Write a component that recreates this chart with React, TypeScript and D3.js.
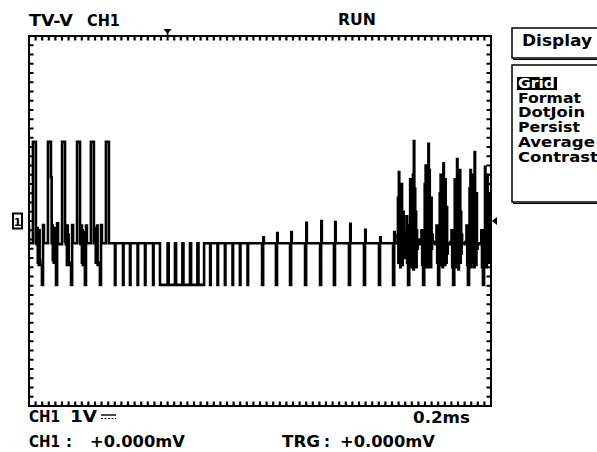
import React from "react";
import * as d3 from "d3";

// ---- scope settings ----
const TIME_DOMAIN: [number, number] = [0, 2000]; // µs, 0.2 ms/div × 10
const VOLT_DOMAIN: [number, number] = [-4, 4]; // V, 1 V/div × 8
const TRIGGER_T = 600; // µs (top marker)
const TRIGGER_V = 0; // V (right marker)
const GROUND_V = 0; // V (channel 1 marker)

const SYNC_TIP_V = -1.38;
const BLANK_V = -0.48;
const SYNC_W = 4.7; // µs
const EQ_W = 2.4; // µs

// ---- region A: last active video lines before vertical interval ----
const SYNC_A = [-9, 56, 117, 182, 242, 307];
const OFF_A = [4.7, 8.7, 26, 39, 42, 45, 47, 49, 51, 53, 55, 57];
const LEVELS_A = [
  [-0.09, -0.48, 1.71, -0.48, -0.5, -0.15, -0.9, -0.3, -0.95, -0.2, -0.85, -0.95],
  [-0.09, -0.48, 1.71, 0.95, -0.48, -0.1, -0.85, -0.25, -0.9, -0.15, -0.9, -0.85],
  [-0.05, -0.5, 1.71, -0.45, -0.5, -0.2, -0.95, -0.1, -0.85, -0.3, -0.95, -0.9],
  [-0.09, -0.48, 1.71, -0.48, -0.5, -0.1, -0.9, -0.2, -0.95, -0.25, -0.85, -0.95],
  [-0.1, -0.48, 1.71, -0.48, -0.45, -0.15, -0.9, -0.25, -0.9, -0.1, -0.95, -0.9],
  [-0.09, -0.48, 1.71, -0.48, -0.48, -0.48, -0.48, -0.48, -0.48, -0.48, -0.48, -0.48],
];

// ---- pre-equalizing pulses ----
const EQ_T1 = [372, 407, 437, 470, 502, 537];
// ---- broad (vertical sync) pulse with serrations ----
const BROAD = [567, 758];
const SERRATION_T = [600, 632, 664, 697, 729];
// ---- post-equalizing pulses ----
const EQ_T2 = [784, 816, 848, 881, 913, 946];

// ---- vertical blanking lines: sync + small upward spike ----
const SYNC_VBI = [1009, 1069, 1130, 1195, 1260, 1320, 1385, 1450, 1515];
const SPIKE_VBI = [-0.35, -0.26, -0.24, -0.04, 0.0, -0.02, -0.06, -0.19, -0.35];

// ---- region E: active video resumes ----
const SYNC_E = [1576, 1641, 1706, 1771, 1836, 1900, 1965];
const OFF_E = [5, 7, 9, 11, 13, 15, 17, 19, 21, 23, 25, 27, 29, 31, 33, 35, 37, 39, 42, 46, 50, 54, 58, 61];
const LEVELS_E = [
  [-0.24, -0.48, -0.48, -0.48, -0.48, -0.48, -0.48, -0.3, 0.5, -0.9, 1.06, -0.7, 0.6, -1.0, 0.3, -0.85, 0.8, -0.95, 0.2, -0.8, -0.2, -0.6, 0.1, -0.9],
  [-0.1, -0.9, 0.9, -1.0, 0.5, -0.7, 0.8, -0.6, 1.0, -1.05, 1.73, -0.9, 0.7, -0.8, 0.2, -1.0, -0.2, -0.6, -0.48, -0.4, -0.48, -0.5, -0.2, -0.95],
  [-0.3, 0.8, -1.0, 1.2, -0.8, 0.6, -0.5, 0.9, -1.0, 1.67, -0.9, 1.1, -0.7, 0.3, -1.0, 0.5, -0.6, -0.3, -0.48, -0.48, -0.45, -0.5, -0.1, -0.9],
  [-0.2, 0.6, -0.95, 1.0, -0.7, 0.4, 0.9, -1.0, 0.8, 1.25, -0.6, 0.2, -0.95, 0.9, -0.5, -0.9, 0.3, -0.7, -0.48, -0.48, -0.5, -0.45, -0.2, -1.0],
  [-0.3, 0.9, -1.0, 0.5, 0.8, -0.8, 1.34, -0.9, 0.4, -1.05, 0.7, -0.6, 1.1, -0.9, 0.2, -0.7, -0.3, -0.48, -0.48, -0.48, -0.5, -0.45, -0.1, -0.95],
  [-0.2, 0.7, -0.9, 1.1, -1.0, 0.4, 0.9, -0.7, 1.0, -0.9, 0.6, -1.0, 1.49, -0.5, 0.3, -0.95, 0.6, -0.6, -0.48, -0.48, -0.5, -0.48, -0.2, -1.0],
  [-0.2, -0.8, 1.17, -0.9, 0.9, -1.0, 0.5, 1.0, -0.9, 0.3, -0.8, 0.6, -0.7, 0.2, -0.9, -0.5, -0.48, -0.48, -0.48, -0.48, -0.48, -0.48, -0.48, -0.48],
];

// ---- screen texts ----
const HEADER_LEFT = ["TV-V", "CH1"];
const HEADER_STATE = "RUN";
const MENU_TITLE = "Display";
const MENU_ITEMS = ["Grid", "Format", "DotJoin", "Persist", "Average", "Contrast"];
const MENU_WIDTHS = [37, 63, 67, 62, 77, 80];
const SCALE_CH = ["CH1", "1V"];
const SCALE_TIME = "0.2ms";
const READOUT_CH = ["CH1", ":", "+0.000mV"];
const READOUT_TRG = ["TRG", ":", "+0.000mV"];

const H_TICKS = 70;
const V_TICKS = 40;

function buildTrace(): [number, number][] {
  const p: [number, number][] = [];
  SYNC_A.forEach((s, i) => {
    p.push([s, SYNC_TIP_V]);
    OFF_A.forEach((o, j) => p.push([s + o, LEVELS_A[i][j]]));
  });
  EQ_T1.forEach((t) => {
    p.push([t, SYNC_TIP_V]);
    p.push([t + EQ_W, BLANK_V]);
  });
  p.push([BROAD[0], SYNC_TIP_V]);
  SERRATION_T.forEach((t) => {
    p.push([t, BLANK_V]);
    p.push([t + SYNC_W, SYNC_TIP_V]);
  });
  p.push([BROAD[1], BLANK_V]);
  EQ_T2.forEach((t) => {
    p.push([t, SYNC_TIP_V]);
    p.push([t + EQ_W, BLANK_V]);
  });
  SYNC_VBI.forEach((s, i) => {
    p.push([s, SYNC_TIP_V]);
    p.push([s + SYNC_W, BLANK_V]);
    p.push([s + SYNC_W + 0.8, SPIKE_VBI[i]]);
    p.push([s + SYNC_W + 3, BLANK_V]);
  });
  SYNC_E.forEach((s, i) => {
    p.push([s, SYNC_TIP_V]);
    OFF_E.forEach((o, j) => p.push([s + o, LEVELS_E[i][j]]));
  });
  p.push([TIME_DOMAIN[1] + 20, BLANK_V]);
  return p;
}

const FONT = "'DejaVu Sans', Verdana, sans-serif";

export default function App() {
  const left = 29, right = 491, top = 36, bottom = 406;
  const x = d3.scaleLinear().domain(TIME_DOMAIN).range([left, right]);
  const y = d3.scaleLinear().domain(VOLT_DOMAIN).range([bottom, top]);
  const hTick = d3.scaleLinear().domain([0, H_TICKS]).range([left, right]);
  const vTick = d3.scaleLinear().domain([0, V_TICKS]).range([top, bottom]);

  const line = d3
    .line<[number, number]>()
    .x((d) => x(d[0]))
    .y((d) => y(d[1]))
    .curve(d3.curveStepAfter);
  const trace = buildTrace();

  const tx = x(TRIGGER_T);
  const ty = y(TRIGGER_V);
  const gy = y(GROUND_V);

  const txt = (s: string, px: number, py: number, w: number, size = 15, fill = "#000") => (
    <text
      key={s + px + py}
      x={px}
      y={py}
      fontFamily={FONT}
      fontWeight="bold"
      fontSize={size}
      fill={fill}
      textLength={w}
      lengthAdjust="spacingAndGlyphs"
    >
      {s}
    </text>
  );

  const tickPath =
    d3.range(1, H_TICKS).map((i) => `M${hTick(i)},${top}v4.5M${hTick(i)},${bottom}v-4.5`).join("") +
    d3.range(1, V_TICKS).map((i) => `M${left},${vTick(i)}h4.5M${right},${vTick(i)}h-4.5`).join("");

  return (
    <svg
      width={597}
      height={452}
      style={{ position: "absolute", left: 0, top: 0, background: "#fff" }}
    >
      <rect x={0} y={0} width={597} height={452} fill="#fff" />
      <defs>
        <clipPath id="screen">
          <rect x={left} y={top} width={right - left} height={bottom - top} />
        </clipPath>
      </defs>

      {/* header */}
      {txt(HEADER_LEFT[0], 29, 26, 44, 16)}
      {txt(HEADER_LEFT[1], 87, 26, 33, 16)}
      {txt(HEADER_STATE, 338, 25, 38, 15)}

      {/* frame */}
      <rect x={left} y={top} width={right - left} height={bottom - top} fill="none" stroke="#000" strokeWidth={2} />
      <path d={tickPath} stroke="#000" strokeWidth={2.2} fill="none" />

      {/* trigger position marker */}
      <path d={`M${tx - 4},${top - 7} L${tx + 4},${top - 7} L${tx},${top - 2} Z`} fill="#000" />
      <line x1={tx} x2={tx} y1={top - 3} y2={top} stroke="#000" strokeWidth={1.5} />
      {/* trigger level marker */}
      <path d={`M${right + 1},${ty} L${right + 6},${ty - 4} L${right + 6},${ty + 4} Z`} fill="#000" />
      {/* ground marker */}
      <rect x={13} y={gy - 7.5} width={9} height={15} fill="#fff" stroke="#000" strokeWidth={2} />
      <text x={17.5} y={gy + 4.5} fontFamily={FONT} fontWeight="bold" fontSize={11} textAnchor="middle">1</text>

      {/* waveform */}
      <g clipPath="url(#screen)">
        <path d={line(trace) || ""} fill="none" stroke="#000" strokeWidth={2.6} strokeLinejoin="miter" />
      </g>

      {/* bottom labels */}
      {txt(SCALE_CH[0], 29, 422, 31)}
      {txt(SCALE_CH[1], 70, 422, 27)}
      <line x1={101} x2={116} y1={415} y2={415} stroke="#000" strokeWidth={1.4} />
      <line x1={101} x2={116} y1={418.5} y2={418.5} stroke="#000" strokeWidth={1.2} strokeDasharray="2 1.5" />
      {txt(SCALE_TIME, 413, 423, 57)}
      {txt(READOUT_CH[0], 29, 447, 31)}
      {txt(READOUT_CH[1], 66, 447, 6)}
      {txt(READOUT_CH[2], 90, 447, 95)}
      {txt(READOUT_TRG[0], 282, 447, 38)}
      {txt(READOUT_TRG[1], 324, 447, 6)}
      {txt(READOUT_TRG[2], 340, 447, 95)}

      {/* side menu */}
      <rect x={512} y={28} width={100} height={30} fill="#fff" stroke="#000" strokeWidth={1.5} />
      <line x1={513} x2={600} y1={59.5} y2={59.5} stroke="#000" strokeWidth={1.2} />
      {txt(MENU_TITLE, 522, 46, 70)}
      <rect x={512} y={65} width={100} height={137} fill="#fff" stroke="#000" strokeWidth={1.5} />
      <line x1={513} x2={600} y1={203.5} y2={203.5} stroke="#000" strokeWidth={1.2} />
      <rect x={517} y={77} width={40} height={13} fill="#000" />
      {MENU_ITEMS.map((m, i) =>
        txt(m, 518, 88 + i * 14.7, MENU_WIDTHS[i], 14, i === 0 ? "#fff" : "#000")
      )}
    </svg>
  );
}
